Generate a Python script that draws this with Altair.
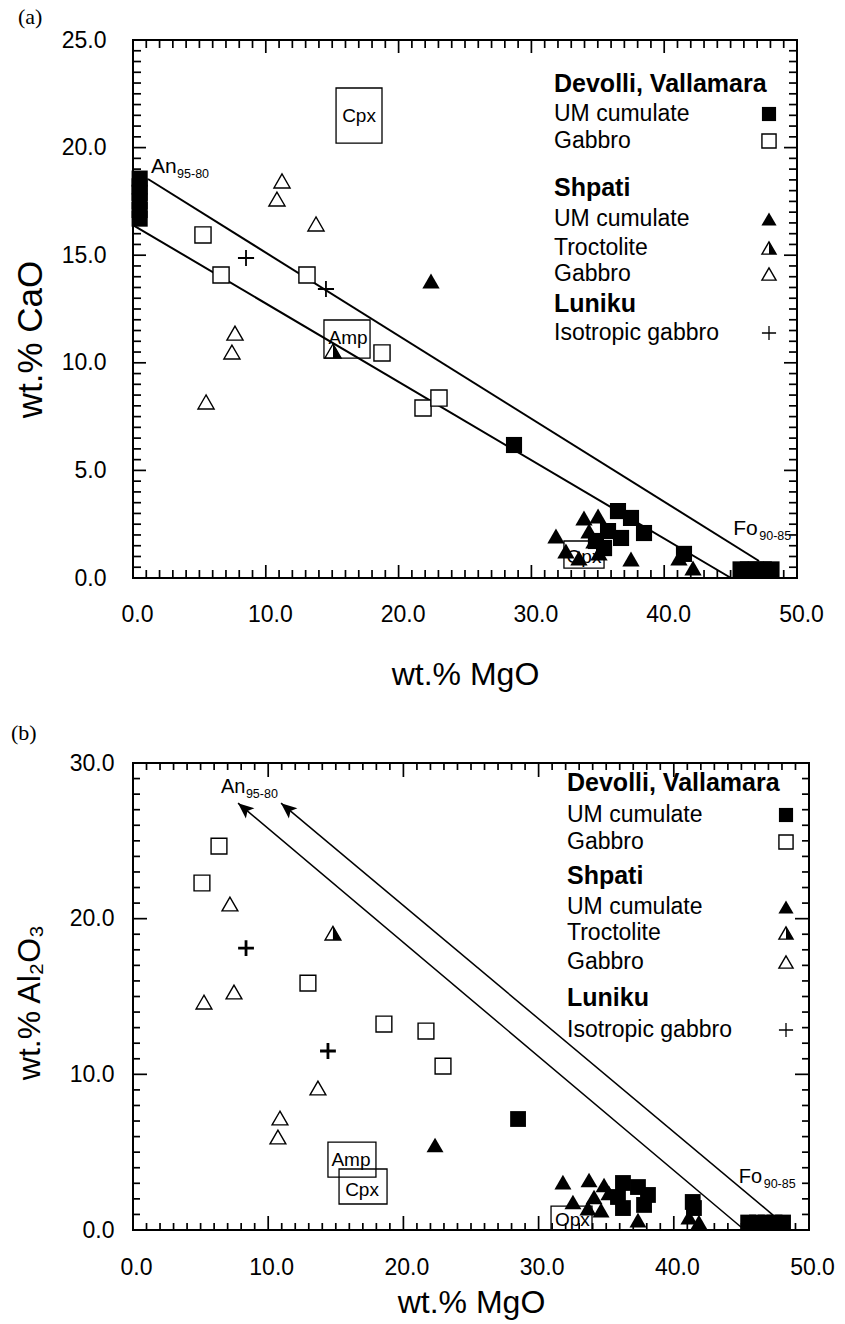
import math
import altair as alt
import pandas as pd

FONT = "Liberation Sans"
SERIF = "Liberation Serif"

# ======================= DATA =======================
# ---- Panel (a): wt.% MgO vs wt.% CaO ----
a_um_sq_x = [0.5, 0.5, 0.5, 0.5, 0.5, 0.5, 28.69, 36.52, 37.5, 38.48, 36.75, 35.77, 35.47, 34.86, 41.49,
             45.75, 46.3, 46.9, 47.5, 48.08]
a_um_sq_y = [16.7, 17.1, 17.5, 17.9, 18.2, 18.56, 6.18, 3.11, 2.79, 2.09, 1.86, 2.18, 1.39, 1.72, 1.12,
             0.4, 0.4, 0.4, 0.4, 0.4]
a_gab_sq_x = [5.27, 6.63, 13.1, 18.75, 21.84, 23.04]
a_gab_sq_y = [15.94, 14.08, 14.08, 10.46, 7.90, 8.36]
a_um_tri_x = [22.44, 31.85, 33.96, 35.02, 32.6, 33.58, 37.5, 41.11, 42.17, 34.34, 34.71, 35.09]
a_um_tri_y = [13.8, 1.95, 2.79, 2.88, 1.25, 0.93, 0.88, 0.93, 0.46, 2.18, 1.72, 1.16]
a_troct_x = [15.06]
a_troct_y = [10.55]
a_gab_tri_x = [11.22, 10.84, 13.78, 7.68, 7.45, 5.5]
a_gab_tri_y = [18.45, 17.61, 16.45, 11.38, 10.5, 8.18]
a_cross_x = [8.51, 14.53]
a_cross_y = [14.87, 13.43]
# mixing lines An -> Fo
a_line_x1 = [1.13, 0.0]
a_line_y1 = [18.54, 16.4]
a_line_x2 = [47.14, 45.03]
a_line_y2 = [0.79, 0.0]
# mineral boxes
a_box_name = ["Cpx", "Amp", "Opx"]
a_box_x1 = [15.29, 14.38, 32.45]
a_box_x2 = [18.75, 17.85, 35.47]
a_box_y1 = [20.21, 10.22, 0.46]
a_box_y2 = [22.77, 11.99, 1.72]
a_box_tx = [17.02, 16.19, 33.96]
a_box_ty = [21.47, 11.15, 0.98]
# end-member labels
a_em_main = ["An", "Fo"]
a_em_sub = ["95-80", "90-85"]
a_em_x = [1.36, 45.2]
a_em_y = [18.8, 2.0]

# ---- Panel (b): wt.% MgO vs wt.% Al2O3 ----
b_um_sq_x = [28.48, 36.24, 37.35, 38.09, 35.87, 37.8, 36.24, 41.49, 41.4,
             45.5, 46.15, 46.8, 47.45, 48.08]
b_um_sq_y = [7.13, 3.02, 2.76, 2.25, 2.12, 1.61, 1.41, 1.41, 1.8,
             0.48, 0.48, 0.48, 0.48, 0.48]
b_gab_sq_x = [6.36, 5.1, 12.94, 18.56, 21.67, 22.93]
b_gab_sq_y = [24.66, 22.29, 15.86, 13.23, 12.78, 10.53]
b_um_tri_x = [22.34, 31.8, 33.73, 34.84, 32.54, 33.65, 34.62, 37.35, 41.12, 41.86, 34.1, 35.2]
b_um_tri_y = [5.46, 3.08, 3.21, 2.89, 1.8, 1.41, 1.28, 0.64, 0.83, 0.51, 2.12, 2.38]
b_troct_x = [14.79]
b_troct_y = [19.07]
b_gab_tri_x = [7.17, 7.47, 5.25, 13.68, 10.87, 10.72]
b_gab_tri_y = [20.94, 15.29, 14.64, 9.12, 7.19, 5.97]
b_cross_x = [8.36, 14.42]
b_cross_y = [18.11, 11.5]
# arrows Fo -> An
b_arr_x1 = [44.97, 47.34]
b_arr_y1 = [0.19, 0.96]
b_arr_x2 = [7.77, 10.95]
b_arr_y2 = [27.42, 27.42]
b_box_name = ["Amp", "Cpx", "Opx"]
b_box_x1 = [14.42, 15.24, 30.92]
b_box_x2 = [17.97, 18.79, 33.95]
b_box_y1 = [3.4, 1.67, 0.0]
b_box_y2 = [5.65, 3.92, 1.54]
b_box_tx = [16.12, 16.94, 32.5]
b_box_ty = [4.5, 2.57, 0.64]
b_em_main = ["An", "Fo"]
b_em_sub = ["95-80", "90-85"]
b_em_x = [6.5, 44.8]
b_em_y = [28.1, 3.0]

# ---- legend ----
leg_labels = ["Devolli, Vallamara", "UM cumulate", "Gabbro", "Shpati", "UM cumulate",
              "Troctolite", "Gabbro", "Luniku", "Isotropic gabbro"]
leg_bold = [True, False, False, True, False, False, False, True, False]
leg_symbol = ["", "um_sq", "gab_sq", "", "um_tri", "troct", "gab_tri", "", "cross"]

x_major = [10, 20, 30, 40]
x_minor = [v for v in range(1, 50) if v % 10]
a_y_major = [5, 10, 15, 20]
a_y_minor = [i * 0.5 for i in range(1, 50) if i % 10]
b_y_major = [10, 20]
b_y_minor = [v for v in range(1, 30) if v % 10]

TRI_RIGHT = "M0,-0.866L1,0.866L0,0.866Z"
CROSS = "M-1,0L1,0M0,-1L0,1"
ARROW = "M0,0L0.42,1L0,0.78L-0.42,1Z"


def tick_shape(side, length, width=1.7):
    h = round(width / 2.0 / length, 4)
    if side == "bottom":
        return "M-%s,0L%s,0L%s,-1L-%s,-1Z" % (h, h, h, h)
    if side == "top":
        return "M-%s,0L%s,0L%s,1L-%s,1Z" % (h, h, h, h)
    if side == "left":
        return "M0,-%sL1,-%sL1,%sL0,%sZ" % (h, h, h, h)
    return "M0,-%sL-1,-%sL-1,%sL0,%sZ" % (h, h, h, h)


def build_panel(cfg):
    W, H, ymax = cfg["W"], cfg["H"], cfg["ymax"]
    sx = alt.Scale(domain=[0, 50], nice=False, zero=False)
    sy = alt.Scale(domain=[0, ymax], nice=False, zero=False)
    ax_x = alt.Axis(values=[0, 10, 20, 30, 40, 50], format=".1f", ticks=False,
                    domain=False, grid=False, labelFont=FONT, labelFontSize=23,
                    labelPadding=cfg["xlabpad"], labelColor="black", labelFlush=False,
                    labelOffset=cfg["xlaboff"],
                    title="wt.% MgO", titleFont=FONT, titleFontSize=32, titleFontWeight="normal",
                    titleColor="black", titleY=cfg["xtitleY"], titleBaseline="middle",
                    titleX=W / 2, titleAlign="center")
    ax_y = alt.Axis(values=cfg["ylabels"], format=".1f", ticks=False,
                    domain=False, grid=False, labelFont=FONT, labelFontSize=23,
                    labelPadding=cfg["ylabpad"], labelColor="black", labelFlush=False,
                    title=cfg["ytitle"], titleFont=FONT, titleFontSize=cfg["ytitlesize"],
                    titleFontWeight="normal", titleColor="black", titleAngle=270,
                    titleX=cfg["ytitleX"], titleY=cfg["ytitleY"], titleBaseline="middle",
                    titleAlign="center")

    def X(f):
        return alt.X(f + ":Q", scale=sx, axis=ax_x)

    def Y(f):
        return alt.Y(f + ":Q", scale=sy, axis=ax_y)

    layers = []
    ms = cfg["msize"]

    # An-Fo lines / arrows
    ln = pd.DataFrame({"x": cfg["lx1"], "y": cfg["ly1"], "x2": cfg["lx2"], "y2": cfg["ly2"]})
    layers.append(alt.Chart(ln).mark_rule(color="black", strokeWidth=cfg["lw"]).encode(
        x=X("x"), y=Y("y"), x2="x2:Q", y2="y2:Q"))
    if cfg.get("arrow"):
        pxu = W / 50.0
        pyu = H / ymax
        angs = []
        for x1, y1, x2, y2 in zip(cfg["lx1"], cfg["ly1"], cfg["lx2"], cfg["ly2"]):
            dx = (x2 - x1) * pxu
            dy = -(y2 - y1) * pyu
            angs.append(math.degrees(math.atan2(dx, -dy)) % 360)
        ah = pd.DataFrame({"x": cfg["lx2"], "y": cfg["ly2"], "ang": angs})
        layers.append(alt.Chart(ah).mark_point(shape=ARROW, filled=True, color="black", opacity=1,
                                               size=1000, strokeWidth=0).encode(
            x=X("x"), y=Y("y"), angle=alt.Angle("ang:Q", scale=None)))

    # mineral boxes
    bx = pd.DataFrame({"name": cfg["bname"], "x": cfg["bx1"], "x2": cfg["bx2"], "y": cfg["by1"],
                       "y2": cfg["by2"], "tx": cfg["btx"], "ty": cfg["bty"]})
    layers.append(alt.Chart(bx).mark_rect(fill=None, stroke="black", strokeWidth=1.3).encode(
        x=X("x"), x2="x2:Q", y=Y("y"), y2="y2:Q"))
    layers.append(alt.Chart(bx).mark_text(font=FONT, fontSize=19, color="black",
                                          align="center", baseline="middle").encode(
        x=X("tx"), y=Y("ty"), text="name:N"))

    # end-member labels
    em = pd.DataFrame({"m": cfg["em_main"], "s": cfg["em_sub"], "x": cfg["em_x"], "y": cfg["em_y"]})
    layers.append(alt.Chart(em).mark_text(font=FONT, fontSize=cfg["emsize"], color="black",
                                          align="left", baseline="alphabetic").encode(
        x=X("x"), y=Y("y"), text="m:N"))
    layers.append(alt.Chart(em).mark_text(font=FONT, fontSize=12.5, color="black", align="left",
                                          baseline="alphabetic", dx=cfg["emdx"], dy=5).encode(
        x=X("x"), y=Y("y"), text="s:N"))

    # data points
    def pts(xs, ys, kind, size, sw_cross=2.0):
        df = pd.DataFrame({"x": xs, "y": ys})
        enc = dict(x=X("x"), y=Y("y"))
        if kind == "um_sq":
            return [alt.Chart(df).mark_point(shape="square", filled=True, color="black", opacity=1,
                                             size=size, strokeWidth=0).encode(**enc)]
        if kind == "gab_sq":
            return [alt.Chart(df).mark_point(shape="square", filled=True, fill="white", stroke="black",
                                             strokeWidth=1.4, opacity=1, size=size).encode(**enc)]
        if kind == "um_tri":
            return [alt.Chart(df).mark_point(shape="triangle-up", filled=True, color="black",
                                             opacity=1, size=size * 1.15, strokeWidth=0).encode(**enc)]
        if kind == "gab_tri":
            return [alt.Chart(df).mark_point(shape="triangle-up", filled=True, fill="white",
                                             stroke="black", strokeWidth=1.4, opacity=1,
                                             size=size).encode(**enc)]
        if kind == "troct":
            return [alt.Chart(df).mark_point(shape="triangle-up", filled=True, fill="white",
                                             stroke="black", strokeWidth=1.4, opacity=1,
                                             size=size).encode(**enc),
                    alt.Chart(df).mark_point(shape=TRI_RIGHT, filled=True, color="black", opacity=1,
                                             size=size, strokeWidth=0).encode(**enc)]
        if kind == "cross":
            return [alt.Chart(df).mark_point(shape=CROSS, filled=False, stroke="black",
                                             strokeWidth=sw_cross, opacity=1, size=size).encode(**enc)]
        return []

    layers += pts(cfg["gab_tri"][0], cfg["gab_tri"][1], "gab_tri", ms)
    layers += pts(cfg["gab_sq"][0], cfg["gab_sq"][1], "gab_sq", ms)
    layers += pts(cfg["cross"][0], cfg["cross"][1], "cross", ms, cfg["crossw"])
    layers += pts(cfg["troct"][0], cfg["troct"][1], "troct", ms)
    layers += pts(cfg["um_tri"][0], cfg["um_tri"][1], "um_tri", ms)
    layers += pts(cfg["um_sq"][0], cfg["um_sq"][1], "um_sq", ms)

    # legend (positions converted from pixel layout into data units)
    rows = cfg["leg_rows"]
    ly = [ymax - r / H * ymax for r in rows]
    ltx = cfg["leg_tx"] / W * 50
    lsx = cfg["leg_sx"] / W * 50
    leg = pd.DataFrame({"label": leg_labels, "bold": leg_bold, "sym": leg_symbol,
                        "y": ly, "tx": [ltx] * len(rows), "sx": [lsx] * len(rows)})
    hd = leg[leg["bold"]]
    it = leg[~leg["bold"]]
    layers.append(alt.Chart(hd).mark_text(font=FONT, fontSize=25, fontWeight="bold", color="black",
                                          align="left", baseline="middle").encode(
        x=X("tx"), y=Y("y"), text="label:N"))
    layers.append(alt.Chart(it).mark_text(font=FONT, fontSize=23, color="black",
                                          align="left", baseline="middle").encode(
        x=X("tx"), y=Y("y"), text="label:N"))
    for kind in ["um_sq", "gab_sq", "um_tri", "troct", "gab_tri", "cross"]:
        sub = leg[leg["sym"] == kind]
        layers += pts(list(sub["sx"]), list(sub["y"]), kind, 200, 1.3)

    # inward frame ticks drawn as bar-shaped point symbols anchored on the frame edge
    for kind in ["minor", "major"]:
        L = cfg["tminor"] if kind == "minor" else cfg["tmajor"]
        xv = x_minor if kind == "minor" else x_major
        yv = cfg["yminor"] if kind == "minor" else cfg["ymajor"]
        size = (2 * L) ** 2
        for side in ["bottom", "top"]:
            edge = 0.0 if side == "bottom" else float(ymax)
            df = pd.DataFrame({"x": [float(v) for v in xv], "y": [edge] * len(xv)})
            layers.append(alt.Chart(df).mark_point(shape=tick_shape(side, L), filled=True,
                                                   color="black", opacity=1, strokeWidth=0,
                                                   size=size).encode(x=X("x"), y=Y("y")))
        for side in ["left", "right"]:
            edge = 0.0 if side == "left" else 50.0
            df = pd.DataFrame({"x": [edge] * len(yv), "y": [float(v) for v in yv]})
            layers.append(alt.Chart(df).mark_point(shape=tick_shape(side, L), filled=True,
                                                   color="black", opacity=1, strokeWidth=0,
                                                   size=size).encode(x=X("x"), y=Y("y")))

    # panel tag
    tag = pd.DataFrame({"t": [cfg["tag"]]})
    layers.append(alt.Chart(tag).mark_text(font=SERIF, fontSize=22, color="black", align="left",
                                           baseline="middle").encode(
        text="t:N", x=alt.value(cfg["tag_x"]), y=alt.value(cfg["tag_y"])))

    return alt.layer(*layers).properties(width=W, height=H)


cfg_a = dict(
    W=664, H=538, ymax=25, ylabels=[0, 5, 10, 15, 20, 25], xlabpad=25, ylabpad=27, xlaboff=4,
    xtitleY=96, ytitle="wt.% CaO", ytitlesize=35, ytitleX=-103, ytitleY=299,
    lx1=a_line_x1, ly1=a_line_y1, lx2=a_line_x2, ly2=a_line_y2, lw=2.0, arrow=False,
    bname=a_box_name, bx1=a_box_x1, bx2=a_box_x2, by1=a_box_y1, by2=a_box_y2, btx=a_box_tx, bty=a_box_ty,
    em_main=a_em_main, em_sub=a_em_sub, em_x=a_em_x, em_y=a_em_y, emsize=21, emdx=26,
    msize=260, crossw=1.8,
    gab_tri=(a_gab_tri_x, a_gab_tri_y), gab_sq=(a_gab_sq_x, a_gab_sq_y), cross=(a_cross_x, a_cross_y),
    troct=(a_troct_x, a_troct_y), um_tri=(a_um_tri_x, a_um_tri_y), um_sq=(a_um_sq_x, a_um_sq_y),
    leg_rows=[44, 74, 101, 148, 179, 208, 234, 264, 293], leg_tx=421, leg_sx=636,
    ymajor=a_y_major, yminor=a_y_minor, tminor=8, tmajor=13,
    tag="(a)", tag_x=-115, tag_y=-23,
)
cfg_b = dict(
    W=676, H=467, ymax=30, ylabels=[0, 10, 20, 30], xlabpad=26, ylabpad=19, xlaboff=3,
    xtitleY=72, ytitle="wt.% Al\u2082O\u2083", ytitlesize=32, ytitleX=-104, ytitleY=239,
    lx1=b_arr_x1, ly1=b_arr_y1, lx2=b_arr_x2, ly2=b_arr_y2, lw=1.5, arrow=True,
    bname=b_box_name, bx1=b_box_x1, bx2=b_box_x2, by1=b_box_y1, by2=b_box_y2, btx=b_box_tx, bty=b_box_ty,
    em_main=b_em_main, em_sub=b_em_sub, em_x=b_em_x, em_y=b_em_y, emsize=20, emdx=25,
    msize=250, crossw=2.8,
    gab_tri=(b_gab_tri_x, b_gab_tri_y), gab_sq=(b_gab_sq_x, b_gab_sq_y), cross=(b_cross_x, b_cross_y),
    troct=(b_troct_x, b_troct_y), um_tri=(b_um_tri_x, b_um_tri_y), um_sq=(b_um_sq_x, b_um_sq_y),
    leg_rows=[20, 52, 79, 113, 144, 170, 199, 235, 267], leg_tx=434, leg_sx=653,
    ymajor=b_y_major, yminor=b_y_minor, tminor=7, tmajor=14,
    tag="(b)", tag_x=-122, tag_y=-30,
)

chart = alt.vconcat(build_panel(cfg_a), build_panel(cfg_b), spacing=30).properties(
    padding={"left": 10, "top": 5, "right": 5, "bottom": 5},
    background="white",
).configure_view(stroke="black", strokeWidth=2)

chart.save("out.html", embed_options={"renderer": "svg", "actions": False})
